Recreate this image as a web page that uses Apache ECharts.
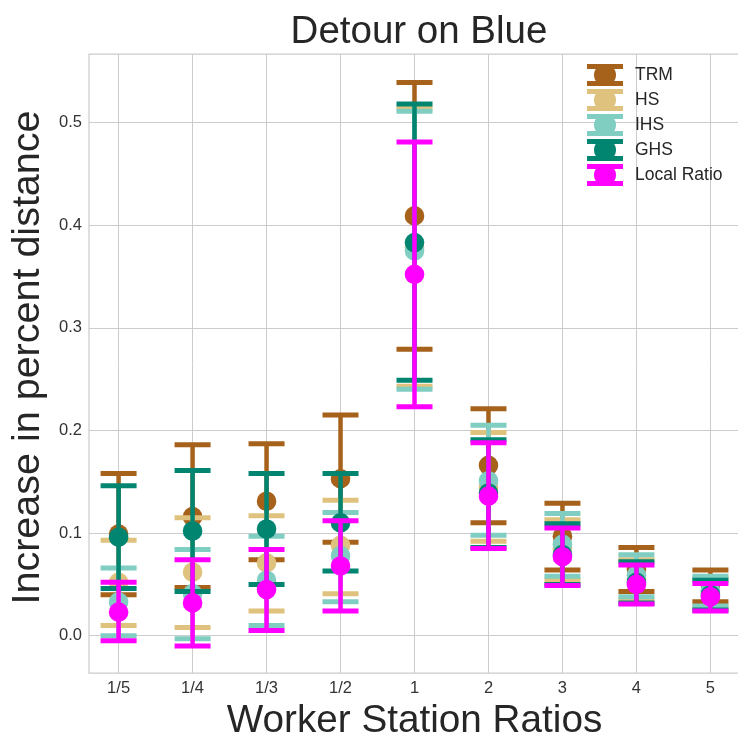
<!DOCTYPE html>
<html>
<head>
<meta charset="utf-8">
<script src="https://cdn.jsdelivr.net/npm/echarts@6/dist/echarts.min.js"></script>
<style>
  html, body { margin: 0; padding: 0; background: #fff; }
  #chart { width: 738px; height: 736px; }
</style>
</head>
<body>
<div id="chart"></div>
<script>
// x categories and y ticks
const categories = ['1/5', '1/4', '1/3', '1/2', '1', '2', '3', '4', '5']
const yTicks = [0, 0.1, 0.2, 0.3, 0.4, 0.5]

// mean / lower / upper of each method
const trmMean = [0.099, 0.116, 0.131, 0.153, 0.409, 0.166, 0.097, 0.065, 0.049]
const trmLow  = [0.040, 0.047, 0.074, 0.091, 0.279, 0.110, 0.064, 0.043, 0.033]
const trmHigh = [0.158, 0.186, 0.187, 0.215, 0.539, 0.221, 0.129, 0.086, 0.064]

const hsMean = [0.052, 0.062, 0.071, 0.088, 0.378, 0.145, 0.085, 0.055, 0.042]
const hsLow  = [0.010, 0.008, 0.024, 0.041, 0.243, 0.092, 0.054, 0.035, 0.028]
const hsHigh = [0.093, 0.115, 0.117, 0.132, 0.514, 0.198, 0.113, 0.074, 0.056]

const ihsMean = [0.033, 0.041, 0.054, 0.078, 0.375, 0.151, 0.089, 0.059, 0.044]
const ihsLow  = [0.000, -0.003, 0.010, 0.033, 0.240, 0.098, 0.058, 0.038, 0.029]
const ihsHigh = [0.066, 0.084, 0.097, 0.120, 0.511, 0.205, 0.119, 0.079, 0.058]

const ghsMean = [0.096, 0.102, 0.104, 0.110, 0.383, 0.139, 0.079, 0.052, 0.040]
const ghsLow  = [0.046, 0.043, 0.050, 0.063, 0.249, 0.086, 0.050, 0.032, 0.025]
const ghsHigh = [0.146, 0.161, 0.158, 0.158, 0.518, 0.191, 0.109, 0.072, 0.054]

const locMean = [0.023, 0.032, 0.045, 0.068, 0.352, 0.136, 0.077, 0.050, 0.038]
const locLow  = [-0.005, -0.010, 0.005, 0.024, 0.223, 0.085, 0.049, 0.031, 0.024]
const locHigh = [0.052, 0.074, 0.084, 0.112, 0.481, 0.188, 0.105, 0.069, 0.051]

const methods = [
  { name: 'TRM', color: '#a6611a', mean: trmMean, low: trmLow, high: trmHigh },
  { name: 'HS', color: '#dfc27d', mean: hsMean, low: hsLow, high: hsHigh },
  { name: 'IHS', color: '#80cdc1', mean: ihsMean, low: ihsLow, high: ihsHigh },
  { name: 'GHS', color: '#018571', mean: ghsMean, low: ghsLow, high: ghsHigh },
  { name: 'Local Ratio', color: '#ff00ff', mean: locMean, low: locLow, high: locHigh }
]

const fontFamily = 'Liberation Sans, Arial, sans-serif'
const capHalf = 18
const capThick = 5

// errorbar icon for the legend: caps, stem and dot
const legendIcon = 'path://M0,0H36V5H0Z M0,17H36V22H0Z M16,5H20V17H16Z M29,11A11,11 0 1,1 7,11A11,11 0 1,1 29,11Z'

function makeRenderItem (color) {
  return (params, api) => {
    const x = api.value(0)
    const pM = api.coord([x, api.value(1)])
    const pL = api.coord([x, api.value(2)])
    const pH = api.coord([x, api.value(3)])
    return {
      type: 'group',
      children: [
        { type: 'line', shape: { x1: pL[0], y1: pL[1], x2: pH[0], y2: pH[1] }, style: { stroke: color, lineWidth: 4.5 } },
        { type: 'rect', shape: { x: pH[0] - capHalf, y: pH[1] - capThick / 2, width: capHalf * 2, height: capThick }, style: { fill: color } },
        { type: 'rect', shape: { x: pL[0] - capHalf, y: pL[1] - capThick / 2, width: capHalf * 2, height: capThick }, style: { fill: color } },
        { type: 'circle', shape: { cx: pM[0], cy: pM[1], r: 9.8 }, style: { fill: color } }
      ]
    }
  }
}

const chart = echarts.init(document.getElementById('chart'))

const option = {
  animation: false,
  backgroundColor: '#fff',
  color: methods.map(m => m.color),
  title: {
    text: 'Detour on Blue',
    left: 414,
    top: 8,
    textAlign: 'center',
    textStyle: { fontFamily, fontSize: 38.5, fontWeight: 'normal', color: '#262626' }
  },
  legend: {
    orient: 'vertical',
    left: 587,
    top: 64,
    padding: 0,
    itemWidth: 36,
    itemHeight: 22,
    itemGap: 3,
    icon: legendIcon,
    textStyle: { fontFamily, fontSize: 17.5, color: '#262626', padding: [0, 0, 0, 7] },
    data: methods.map(m => m.name)
  },
  grid: {
    left: 89,
    top: 54,
    right: -2,
    bottom: 63,
    show: true,
    borderColor: '#cccccc',
    borderWidth: 1.25,
    outerBoundsMode: 'none'
  },
  xAxis: {
    type: 'value',
    min: -0.4,
    max: 8.4,
    name: 'Worker Station Ratios',
    nameLocation: 'middle',
    nameGap: 24,
    nameTextStyle: { fontFamily, fontSize: 38.7, color: '#262626' },
    axisLine: { show: false },
    axisTick: { show: false, customValues: categories.map((c, i) => i) },
    axisLabel: {
      customValues: categories.map((c, i) => i),
      formatter: v => categories[Math.round(v)],
      fontFamily,
      fontSize: 16.5,
      color: '#333',
      margin: 7
    },
    splitLine: { show: true, lineStyle: { color: '#cccccc', width: 1 } }
  },
  yAxis: {
    type: 'value',
    min: -0.0363,
    max: 0.5667,
    name: 'Increase in percent distance',
    nameLocation: 'middle',
    nameGap: 41,
    nameTextStyle: { fontFamily, fontSize: 39.5, color: '#262626', padding: [0, 0, 0, 12] },
    axisLine: { show: false },
    axisTick: { show: false, customValues: yTicks },
    axisLabel: {
      customValues: yTicks,
      formatter: v => v.toFixed(1),
      fontFamily,
      fontSize: 16.5,
      color: '#333',
      margin: 7
    },
    splitLine: { show: true, lineStyle: { color: '#cccccc', width: 1 } }
  },
  series: methods.map(m => ({
    name: m.name,
    type: 'custom',
    itemStyle: { color: m.color },
    renderItem: makeRenderItem(m.color),
    encode: { x: 0, y: [1, 2, 3] },
    data: categories.map((c, i) => [i, m.mean[i], m.low[i], m.high[i]])
  }))
}

chart.setOption(option)
</script>
</body>
</html>
